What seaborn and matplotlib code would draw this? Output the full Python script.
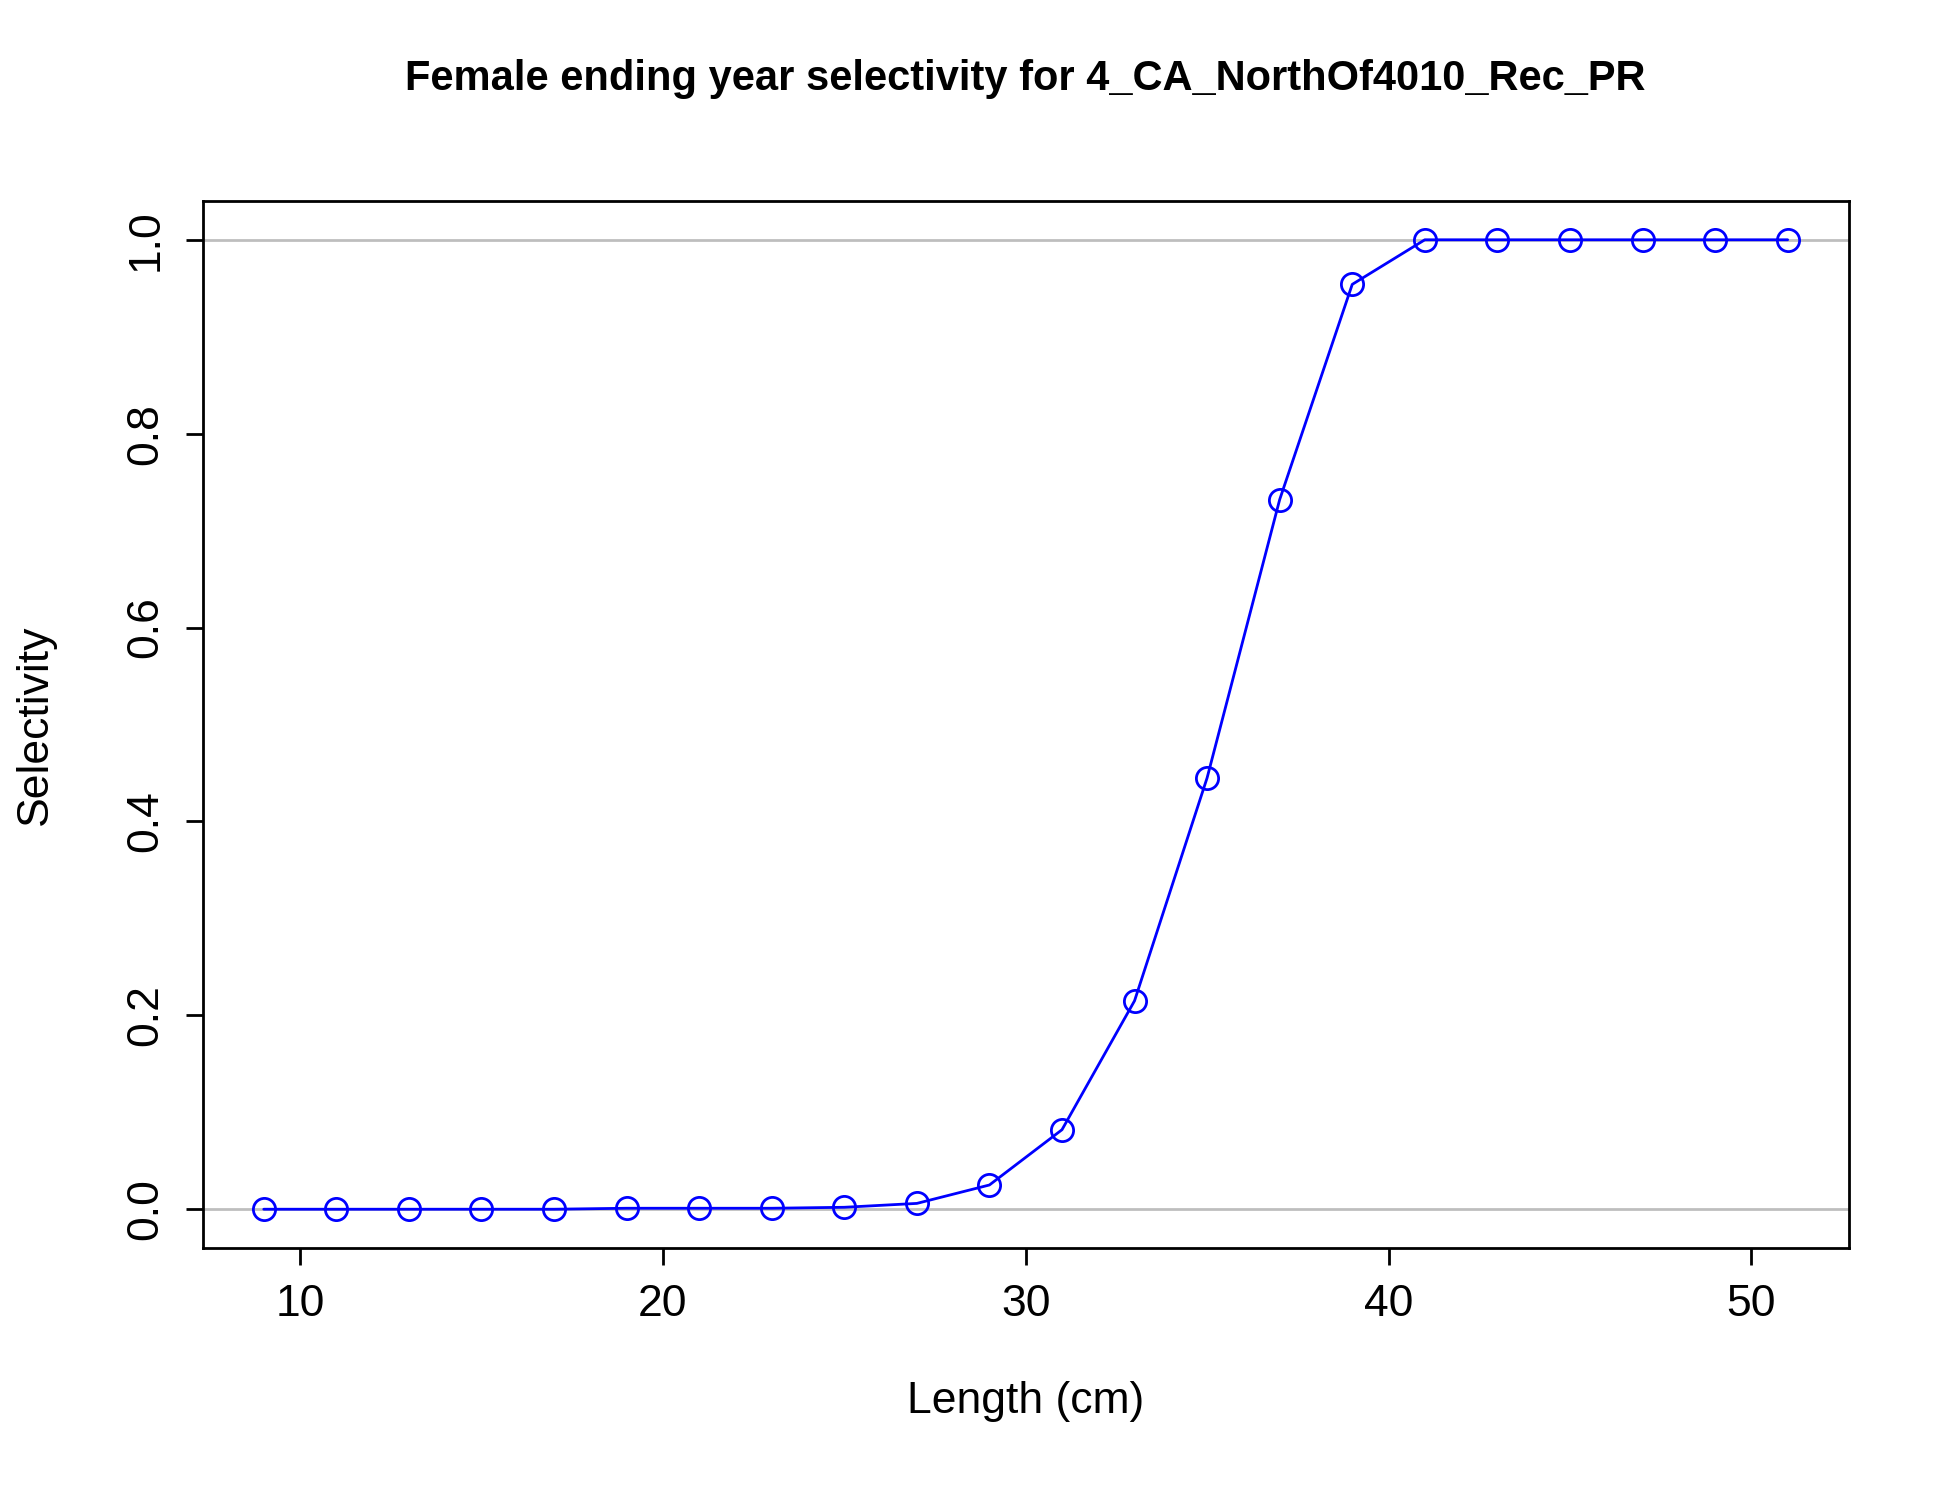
import numpy as np
import seaborn as sns
import matplotlib.pyplot as plt

# Length bins and selectivity values
length_cm = list(range(9, 52, 2))
selectivity = [0, 0, 0, 0, 0, 0.001, 0.001, 0.001, 0.002, 0.006, 0.025,
               0.082, 0.215, 0.445, 0.732, 0.954, 1, 1, 1, 1, 1, 1]

sns.set_style("ticks")
plt.rcParams['font.family'] = ['Liberation Sans', 'DejaVu Sans']
plt.rcParams['text.color'] = 'black'
plt.rcParams['axes.labelcolor'] = 'black'

fig = plt.figure(figsize=(19.5, 15), dpi=100)
ax = fig.add_axes([0.104, 0.168, 0.844, 0.698])

ax.axhline(0, color='#bebebe', lw=2, zorder=1)
ax.axhline(1, color='#bebebe', lw=2, zorder=1)
sns.lineplot(x=length_cm, y=selectivity, ax=ax, color='blue', lw=2,
             marker='o', markersize=16, markerfacecolor='none',
             markeredgecolor='blue', markeredgewidth=2, zorder=3)

ax.set_xlim(7.32, 52.68)
ax.set_ylim(-0.04, 1.04)
ax.set_xticks([10, 20, 30, 40, 50])
ax.set_yticks([0, 0.2, 0.4, 0.6, 0.8, 1.0])
ax.set_yticklabels(['0.0', '0.2', '0.4', '0.6', '0.8', '1.0'], rotation=90, va='center')
ax.tick_params(labelsize=32, width=2, length=12, colors='black', pad=14)
for s in ax.spines.values():
    s.set_linewidth(2)
    s.set_color('black')

ax.set_xlabel('Length (cm)', fontsize=32, labelpad=40, color='black')
ax.set_ylabel('Selectivity', fontsize=32, labelpad=50, color='black')
ax.set_title('Female ending year selectivity for 4_CA_NorthOf4010_Rec_PR',
             fontsize=30, fontweight='bold', pad=80, color='black')

fig.savefig('out.png', dpi=100)
